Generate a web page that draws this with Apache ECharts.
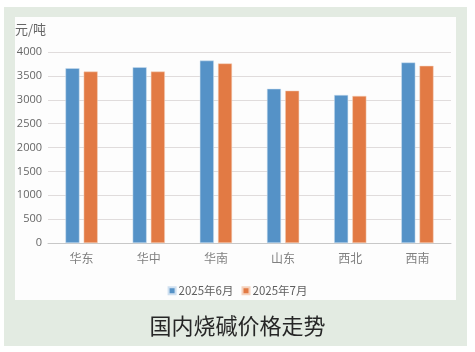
<!DOCTYPE html>
<html>
<head>
<meta charset="utf-8">
<script src="https://cdn.jsdelivr.net/npm/echarts@6/dist/echarts.min.js"></script>
<style>
html,body{margin:0;padding:0;background:#ffffff;}
#chart{width:475px;height:352px;}
</style>
</head>
<body>
<div id="chart"></div>
<script>
var categories = ['华东', '华中', '华南', '山东', '西北', '西南'];
var june = [3660, 3680, 3820, 3230, 3100, 3780];
var july = [3590, 3590, 3760, 3190, 3080, 3710];
var seriesNames = ['2025年6月', '2025年7月'];
var yTicks = [0, 500, 1000, 1500, 2000, 2500, 3000, 3500, 4000];
var chartTitle = '国内烧碱价格走势';
var unitName = '元/吨';

var chart = echarts.init(document.getElementById('chart'), null, {renderer: 'canvas'});
var option = {
  backgroundColor: '#ffffff',
  animation: false,
  graphic: [
    {type: 'rect', left: 4, top: 7, z: -10, shape: {width: 463, height: 339}, style: {fill: '#e3ebe2'}},
    {type: 'rect', left: 15, top: 17, z: -9, shape: {width: 441, height: 283}, style: {fill: '#fdfdfd'}}
  ],
  title: {
    text: chartTitle,
    left: 'center',
    top: 310,
    textStyle: {fontFamily: 'Noto Sans CJK SC', fontSize: 22, fontWeight: 'normal', color: '#262626'}
  },
  legend: {
    data: seriesNames,
    top: 280,
    left: 'center',
    itemWidth: 7,
    itemHeight: 7,
    itemGap: 8,
    icon: 'rect',
    textStyle: {fontFamily: 'Noto Sans CJK SC', fontSize: 11.5, color: '#5f5f5f', padding: [0, 0, 0, -2]}
  },
  grid: {left: 48, right: 24, top: 52, bottom: 109},
  xAxis: {
    type: 'category',
    data: categories,
    axisTick: {show: false},
    axisLine: {lineStyle: {color: '#c8c8c8'}},
    axisLabel: {fontFamily: 'Noto Sans CJK SC', fontSize: 12, color: '#808080', margin: 9}
  },
  yAxis: {
    type: 'value',
    min: yTicks[0],
    max: yTicks[yTicks.length - 1],
    interval: 500,
    name: unitName,
    nameLocation: 'end',
    nameGap: 16,
    nameTextStyle: {fontFamily: 'Noto Sans CJK SC', fontSize: 13, color: '#666666', align: 'right', padding: [0, 2, 0, 0]},
    axisLine: {show: false},
    axisTick: {show: false},
    axisLabel: {fontFamily: 'Open Sans', fontSize: 11, color: '#666666', margin: 6, formatter: function (v) { return String(v); }},
    splitLine: {lineStyle: {color: '#e0dcdc'}}
  },
  series: [
    {
      name: seriesNames[0], type: 'bar', data: june, barWidth: 14, barGap: '30%',
      itemStyle: {color: '#5592c7', borderColor: '#cfe0f0', borderWidth: 0.5}
    },
    {
      name: seriesNames[1], type: 'bar', data: july, barWidth: 14,
      itemStyle: {color: '#e27a44', borderColor: '#f5d2bd', borderWidth: 0.5}
    }
  ]
};
chart.setOption(option);
</script>
</body>
</html>
